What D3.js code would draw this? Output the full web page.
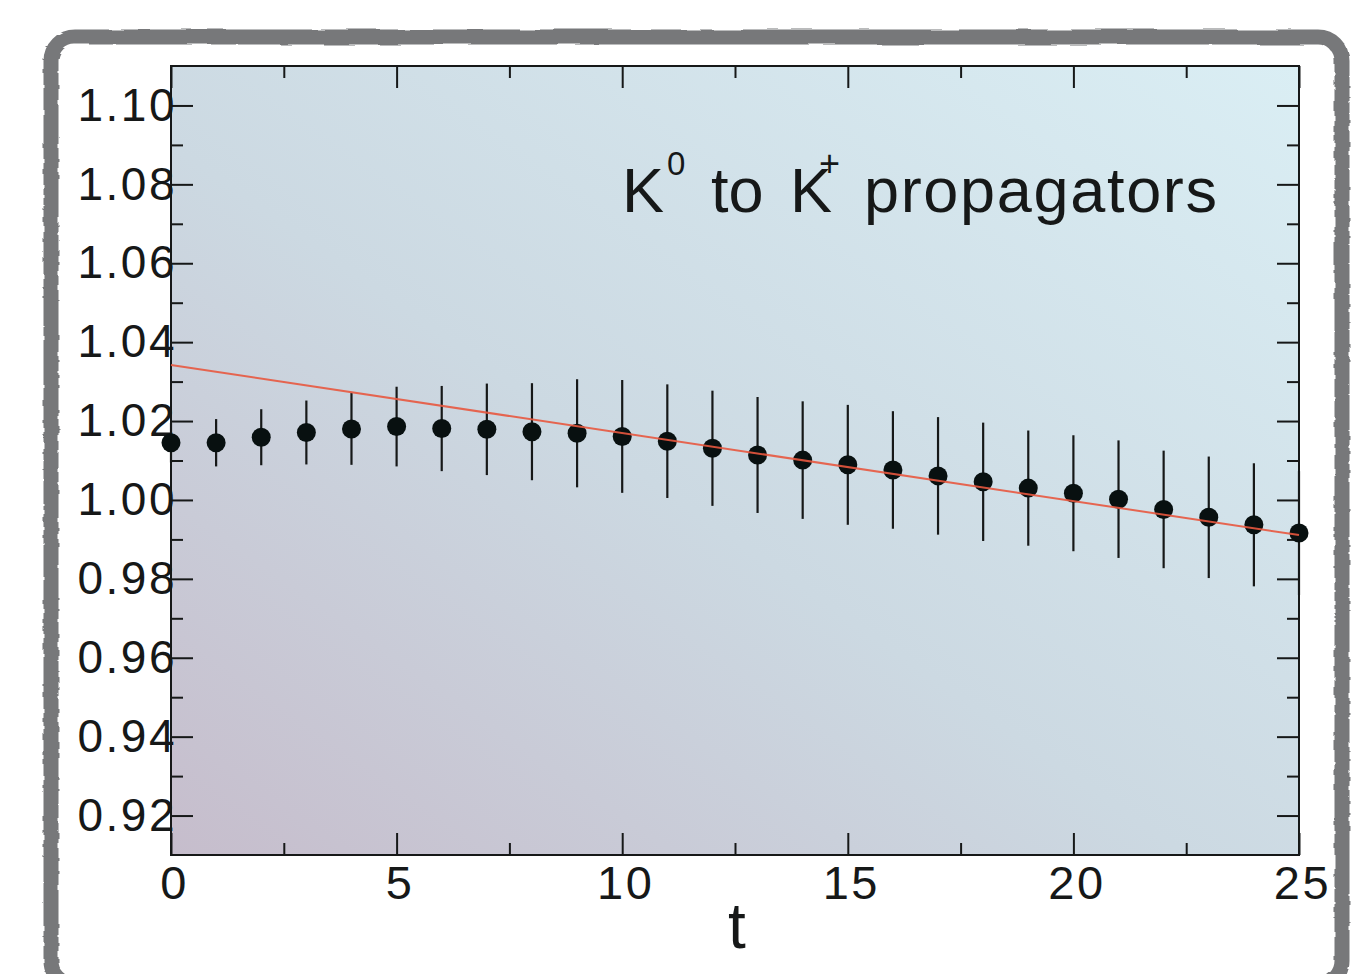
<!DOCTYPE html>
<html>
<head>
<meta charset="utf-8">
<script src="https://cdn.jsdelivr.net/npm/d3@7/dist/d3.min.js"></script>
<style>
	body { margin: 0; background: #fff; }
	svg { display: block; font-family: 'Liberation Sans', Arial, sans-serif; }
</style>
</head>
<body>
<div id="chart"></div>
<script>
'use strict'

// timeslices and the K0 -> K+ propagator ratio
const times = [0, 1, 2, 3, 4, 5, 6, 7, 8, 9, 10, 11, 12, 13, 14, 15, 16, 17, 18, 19, 20, 21, 22, 23, 24, 25]
const ratio = [1.0145, 1.0145, 1.0159, 1.0171, 1.0180, 1.0186, 1.0181, 1.0179, 1.0173, 1.0169, 1.0161, 1.0149, 1.0131, 1.0114, 1.0101, 1.0089, 1.0076, 1.0061, 1.0046, 1.0030, 1.0017, 1.0002, 0.9976, 0.9956, 0.9937, 0.9916]
const errors = [0.0050, 0.0060, 0.0071, 0.0081, 0.0091, 0.0101, 0.0108, 0.0116, 0.0123, 0.0137, 0.0143, 0.0144, 0.0146, 0.0147, 0.0149, 0.0152, 0.0149, 0.0149, 0.0150, 0.0146, 0.0147, 0.0149, 0.0149, 0.0154, 0.0156, 0.0157]

// straight-line fit, end points
const fitT = [0, 25]
const fitY = [1.0342, 0.9911]

const xMajor = [0, 5, 10, 15, 20, 25]
const xMinor = [2.5, 7.5, 12.5, 17.5, 22.5]
const yMajor = [0.92, 0.94, 0.96, 0.98, 1.00, 1.02, 1.04, 1.06, 1.08, 1.10]
const yMinor = [0.93, 0.95, 0.97, 0.99, 1.01, 1.03, 1.05, 1.07, 1.09]

const width = 1353
const height = 974
const plot = {left: 171, top: 66, right: 1299, bottom: 855}
const ink = '#161818'

const svg = d3.select('#chart').append('svg')
	.attr('width', width)
	.attr('height', height)

const defs = svg.append('defs')

const grad = defs.append('linearGradient')
	.attr('id', 'bg')
	.attr('x1', 0).attr('y1', 1)
	.attr('x2', 1).attr('y2', 0)
grad.append('stop').attr('offset', 0).attr('stop-color', '#c6bdcc')
grad.append('stop').attr('offset', 0.45).attr('stop-color', '#ccd9e2')
grad.append('stop').attr('offset', 1).attr('stop-color', '#daeef4')

const rough = defs.append('filter')
	.attr('id', 'rough')
	.attr('x', '-5%').attr('y', '-5%')
	.attr('width', '110%').attr('height', '110%')
rough.append('feTurbulence')
	.attr('type', 'fractalNoise')
	.attr('baseFrequency', '0.02 0.12')
	.attr('numOctaves', 2)
	.attr('seed', 4)
	.attr('result', 'noise')
rough.append('feDisplacementMap')
	.attr('in', 'SourceGraphic')
	.attr('in2', 'noise')
	.attr('scale', 4)

// brushed grey frame round the whole figure
svg.append('rect')
	.attr('x', 51)
	.attr('y', 37)
	.attr('width', 1291)
	.attr('height', 948)
	.attr('rx', 24)
	.attr('fill', 'none')
	.attr('stroke', '#77787a')
	.attr('stroke-width', 15)
	.attr('filter', 'url(#rough)')

const x = d3.scaleLinear()
	.domain([0, 25])
	.range([plot.left, plot.right])

const y = d3.scaleLinear()
	.domain([0.91, 1.11])
	.range([plot.bottom, plot.top])

svg.append('rect')
	.attr('x', plot.left)
	.attr('y', plot.top)
	.attr('width', plot.right - plot.left)
	.attr('height', plot.bottom - plot.top)
	.attr('fill', 'url(#bg)')

function styleAxis(g) {
	g.select('.domain').remove()
	g.selectAll('.tick line')
		.attr('stroke', ink)
		.attr('stroke-width', 2)
	g.selectAll('text')
		.attr('fill', ink)
		.style('font-size', '46px')
		.style('letter-spacing', '2.5px')
}

// major ticks, all four sides, pointing in
svg.append('g')
	.attr('transform', `translate(${plot.left},0)`)
	.call(d3.axisLeft(y).tickValues(yMajor).tickSize(-22).tickPadding(-6).tickFormat(d3.format('.2f')))
	.call(styleAxis)

svg.append('g')
	.attr('transform', `translate(${plot.right},0)`)
	.call(d3.axisRight(y).tickValues(yMajor).tickSize(-22).tickFormat(''))
	.call(styleAxis)

svg.append('g')
	.attr('transform', `translate(0,${plot.bottom})`)
	.call(d3.axisBottom(x).tickValues(xMajor).tickSize(-22).tickPadding(11).tickFormat(d3.format('d')))
	.call(styleAxis)
	.selectAll('text')
	.attr('dx', 3)
	.style('font-size', '47px')

svg.append('g')
	.attr('transform', `translate(0,${plot.top})`)
	.call(d3.axisTop(x).tickValues(xMajor).tickSize(-22).tickFormat(''))
	.call(styleAxis)

// minor ticks
svg.append('g')
	.attr('transform', `translate(${plot.left},0)`)
	.call(d3.axisLeft(y).tickValues(yMinor).tickSize(-12).tickFormat(''))
	.call(styleAxis)

svg.append('g')
	.attr('transform', `translate(${plot.right},0)`)
	.call(d3.axisRight(y).tickValues(yMinor).tickSize(-12).tickFormat(''))
	.call(styleAxis)

svg.append('g')
	.attr('transform', `translate(0,${plot.bottom})`)
	.call(d3.axisBottom(x).tickValues(xMinor).tickSize(-12).tickFormat(''))
	.call(styleAxis)

svg.append('g')
	.attr('transform', `translate(0,${plot.top})`)
	.call(d3.axisTop(x).tickValues(xMinor).tickSize(-12).tickFormat(''))
	.call(styleAxis)

svg.append('rect')
	.attr('x', plot.left)
	.attr('y', plot.top)
	.attr('width', plot.right - plot.left)
	.attr('height', plot.bottom - plot.top)
	.attr('fill', 'none')
	.attr('stroke', ink)
	.attr('stroke-width', 2)

const points = times.map((t, i) => {
	return {t, v: ratio[i], e: errors[i]}
})

svg.append('g')
	.attr('class', 'errorbars')
	.selectAll('line')
	.data(points)
	.enter()
	.append('line')
	.attr('x1', (d) => x(d.t))
	.attr('x2', (d) => x(d.t))
	.attr('y1', (d) => y(d.v + d.e))
	.attr('y2', (d) => y(d.v - d.e))
	.attr('stroke', ink)
	.attr('stroke-width', 2.2)

svg.append('g')
	.attr('class', 'dots')
	.selectAll('circle')
	.data(points)
	.enter()
	.append('circle')
	.attr('cx', (d) => x(d.t))
	.attr('cy', (d) => y(d.v))
	.attr('r', 9.5)
	.attr('fill', '#081010')

const fit = fitT.map((t, i) => [t, fitY[i]])

svg.append('path')
	.datum(fit)
	.attr('d', d3.line()
		.x((d) => x(d[0]))
		.y((d) => y(d[1])))
	.attr('fill', 'none')
	.attr('stroke', '#e8583f')
	.attr('stroke-width', 2)
	.attr('stroke-opacity', 0.9)

// title with superscripts
const title = svg.append('text')
	.attr('fill', ink)
	.style('font-size', '63px')

title.append('tspan').attr('x', 622).attr('y', 212).text('K')
title.append('tspan').attr('x', 667).attr('y', 175).style('font-size', '33px').text('0')
title.append('tspan').attr('x', 711).attr('y', 212).text('to')
title.append('tspan').attr('x', 790).attr('y', 212).text('K')
title.append('tspan').attr('x', 819).attr('y', 176).style('font-size', '36px').text('+')
title.append('tspan').attr('x', 864).attr('y', 212).attr('textLength', 353).text('propagators')

svg.append('text')
	.attr('x', (plot.left + plot.right) / 2 + 2)
	.attr('y', 948)
	.attr('text-anchor', 'middle')
	.attr('fill', ink)
	.style('font-size', '64px')
	.text('t')
</script>
</body>
</html>
